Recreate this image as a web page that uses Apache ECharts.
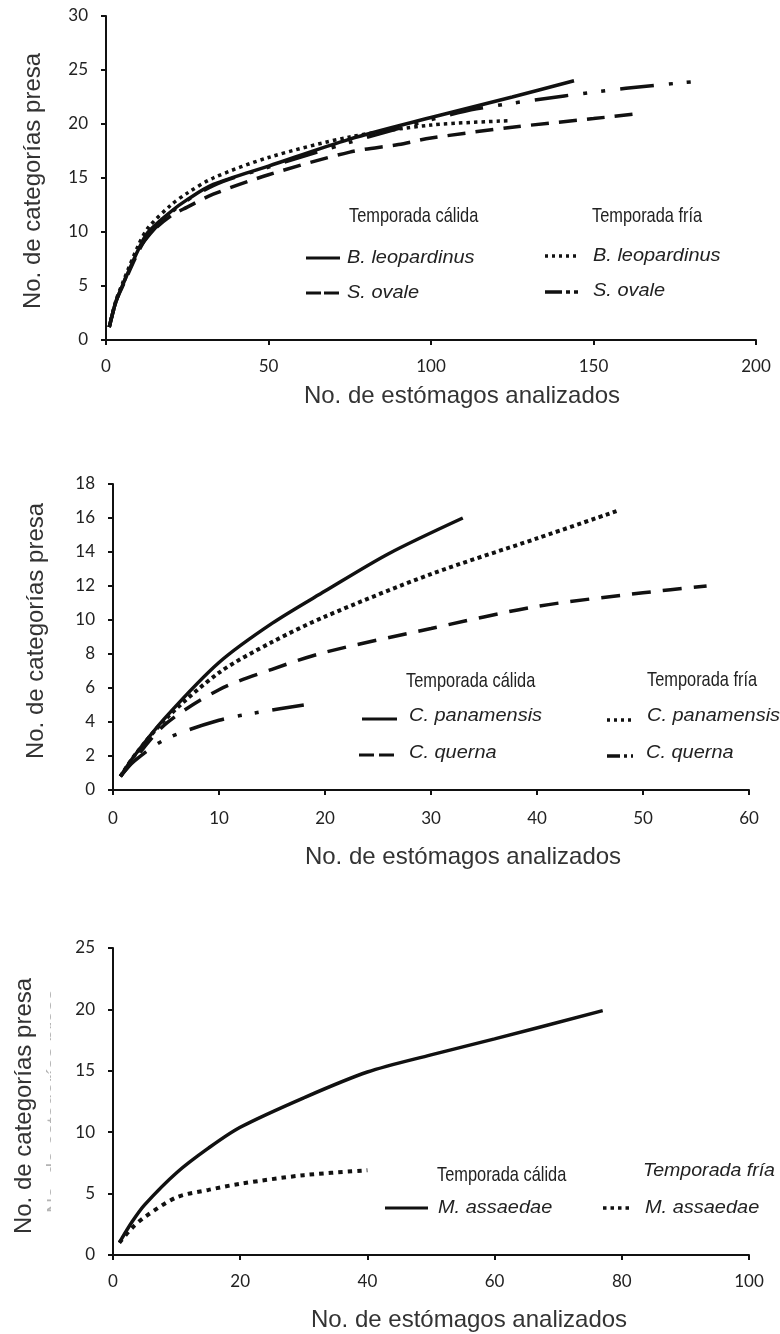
<!DOCTYPE html>
<html><head><meta charset="utf-8">
<script src="https://cdn.jsdelivr.net/npm/echarts@6/dist/echarts.min.js"></script>
<style>html,body{margin:0;padding:0;background:#fff}#c{width:780px;height:1334px}</style>
</head><body><div id="c"></div>
<script>
// ---------- Tick labels ----------
const p1XTicks = [0, 50, 100, 150, 200];
const p1YTicks = [0, 5, 10, 15, 20, 25, 30];
const p2XTicks = [0, 10, 20, 30, 40, 50, 60];
const p2YTicks = [0, 2, 4, 6, 8, 10, 12, 14, 16, 18];
const p3XTicks = [0, 20, 40, 60, 80, 100];
const p3YTicks = [0, 5, 10, 15, 20, 25];

// ---------- Texts ----------
const xTitle = 'No. de estómagos analizados';
const yTitle = 'No. de categorías presa';
const warmLabel = 'Temporada cálida';
const coldLabel = 'Temporada fría';

// ---------- Panel 1 ----------
const p1BleoWarmX = [1, 3, 5, 10, 13, 20, 25, 33, 50, 75, 100, 125, 144];
const p1BleoWarmY = [1.2, 3.5, 5.0, 8.4, 10.0, 11.9, 13.0, 14.4, 16.1, 18.6, 20.6, 22.5, 24.0];
const p1BleoColdX = [1, 3, 5, 10, 13, 20, 25, 33, 50, 75, 100, 124];
const p1BleoColdY = [1.2, 3.6, 5.2, 8.8, 10.4, 12.5, 13.6, 15.0, 16.9, 18.8, 19.9, 20.3];
const p1OvaleWarmX = [1, 3, 5, 10, 13, 20, 25, 33, 50, 75, 90, 100, 125, 150, 162];
const p1OvaleWarmY = [1.2, 3.5, 4.9, 8.2, 9.7, 11.5, 12.3, 13.5, 15.3, 17.4, 18.1, 18.7, 19.7, 20.5, 20.9];
const p1OvaleColdX = [1, 3, 5, 10, 20, 33, 50, 75, 100, 114, 141, 160, 180];
const p1OvaleColdY = [1.2, 3.5, 5.0, 8.4, 11.8, 14.3, 16.0, 18.3, 20.4, 21.4, 22.6, 23.3, 23.9];
const p1Names = ['B. leopardinus', 'S. ovale'];

// ---------- Panel 2 ----------
const p2PanWarmX = [0.7, 2, 5, 10, 15, 20, 26, 33];
const p2PanWarmY = [0.8, 2.0, 4.3, 7.5, 9.8, 11.7, 13.9, 16.0];
const p2PanColdX = [0.7, 2, 5, 10, 15, 20, 30, 40, 47.5];
const p2PanColdY = [0.8, 2.0, 4.2, 6.9, 8.7, 10.2, 12.7, 14.8, 16.4];
const p2QuerWarmX = [0.7, 2, 5, 10, 15, 20, 30, 40, 50, 56];
const p2QuerWarmY = [0.8, 1.8, 3.9, 5.9, 7.1, 8.1, 9.5, 10.8, 11.6, 12.0];
const p2QuerColdX = [0.7, 2, 5, 10, 14, 18];
const p2QuerColdY = [0.8, 1.7, 3.0, 4.1, 4.6, 5.0];
const p2Names = ['C. panamensis', 'C. querna'];

// ---------- Panel 3 ----------
const p3MassWarmX = [1, 3, 5, 10, 15, 20, 30, 40, 50, 60, 77];
const p3MassWarmY = [1.0, 2.7, 4.1, 6.7, 8.7, 10.4, 12.8, 14.9, 16.3, 17.6, 19.9];
const p3MassColdX = [1, 3, 5, 10, 15, 20, 30, 40];
const p3MassColdY = [1.0, 2.2, 3.1, 4.7, 5.3, 5.8, 6.5, 6.9];
const p3Names = ['M. assaedae'];

// ---------- build ----------
const INK = '#111';
const zip = (xs, ys) => xs.map((x, i) => [x, ys[i]]);
const DASH = [18, 10];
const DOT = [3.5, 4];
const DASHDOT = [34, 15, 4, 14, 4, 15];

function xAx(g, t, margin) {
  return { type: 'value', gridIndex: g, min: t[0], max: t[t.length - 1], interval: t[1] - t[0],
    axisLine: { lineStyle: { color: INK, width: 2 } },
    axisTick: { show: true, length: 5, lineStyle: { color: INK, width: 2 } },
    axisLabel: { color: '#222', fontSize: 17, fontFamily: 'Lato', margin: margin },
    splitLine: { show: false } };
}
function yAx(g, t) {
  return { type: 'value', gridIndex: g, min: t[0], max: t[t.length - 1], interval: t[1] - t[0],
    axisLine: { show: true, lineStyle: { color: INK, width: 2 } },
    axisTick: { show: true, length: 5, lineStyle: { color: INK, width: 2 } },
    axisLabel: { color: '#222', fontSize: 17, fontFamily: 'Lato', margin: 18 },
    splitLine: { show: false } };
}
function ser(name, g, xs, ys, type, w) {
  return { name: name, type: 'line', xAxisIndex: g, yAxisIndex: g, data: zip(xs, ys),
    smooth: 0.3, showSymbol: false, symbol: 'none', silent: true,
    lineStyle: { color: INK, width: w || 3.5, type: type, cap: 'butt' }, animation: false };
}

function txt(x, y, s, o) {
  o = o || {};
  return { type: 'text', x: x, y: y, rotation: o.rot || 0, scaleX: o.sx || 1, scaleY: o.sy || 1, silent: true,
    style: { text: s, fill: o.fill || '#222', font: (o.italic ? 'italic ' : '') + (o.size || 19) + 'px ' + (o.family || '"Liberation Sans", Arial, sans-serif'),
      textAlign: o.align || 'left', textVerticalAlign: 'middle' } };
}
function sample(x1, x2, y, dash, w) {
  return { type: 'line', silent: true, shape: { x1: x1, y1: y, x2: x2, y2: y },
    style: { stroke: INK, lineWidth: w || 3, lineDash: dash || null, lineCap: 'butt' } };
}
const HEAD = { size: 21, sx: 0.78 };
const SP = { italic: true, size: 19, sx: 1.05 };

const graphic = [
  // axis titles
  txt(462, 396, xTitle, { size: 24, align: 'center', fill: '#333' }),
  txt(463, 857, xTitle, { size: 24, align: 'center', fill: '#333' }),
  txt(469, 1320, xTitle, { size: 24, align: 'center', fill: '#333' }),
  txt(33, 181, yTitle, { size: 24, align: 'center', fill: '#333', rot: Math.PI / 2 }),
  txt(36, 631, yTitle, { size: 24, align: 'center', fill: '#333', rot: Math.PI / 2 }),
  // faint, half-hidden duplicate title (panel 3)
  txt(55, 1101, yTitle, { size: 21, align: 'center', fill: '#b4b4b4', rot: Math.PI / 2 }),
  { type: 'rect', silent: true, shape: { x: 51, y: 975, width: 16, height: 250 }, style: { fill: '#fff' } },
  txt(24, 1106, yTitle, { size: 24, align: 'center', fill: '#333', rot: Math.PI / 2 }),

  // panel 1 legend
  txt(349, 216, warmLabel, HEAD),
  txt(592, 216, coldLabel, HEAD),
  sample(306, 340, 258),
  txt(347, 258, p1Names[0], SP),
  sample(306, 340, 293, [15, 3]),
  txt(347, 293, p1Names[1], SP),
  sample(545, 578, 256, [3, 4], 3.5),
  txt(593, 256, p1Names[0], SP),
  sample(545, 578, 292, [17, 4, 4, 4, 4, 10], 3.5),
  txt(593, 291, p1Names[1], SP),

  // panel 2 legend
  txt(406, 681, warmLabel, HEAD),
  txt(647, 680, coldLabel, HEAD),
  sample(362, 397, 719),
  txt(409, 716, p2Names[0], SP),
  sample(359, 397, 755, [15, 5]),
  txt(409, 753, p2Names[1], SP),
  sample(607, 632, 720, [3, 4], 3.5),
  txt(647, 716, p2Names[0], SP),
  sample(607, 633, 756, [13, 4, 3, 4, 3, 10], 3.5),
  txt(646, 753, p2Names[1], SP),

  // panel 3 legend
  txt(437, 1175, warmLabel, HEAD),
  txt(643, 1171, coldLabel, { italic: true, size: 19, sx: 1.03 }),
  sample(385, 428, 1208),
  txt(438, 1208, p3Names[0], SP),
  sample(603, 632, 1208, [3.5, 4], 3.5),
  txt(645, 1208, p3Names[0], SP)
];

const option = {
  backgroundColor: '#fff',
  animation: false,
  grid: [
    { left: 106, top: 16, width: 650, height: 324 },
    { left: 113, top: 484, width: 636, height: 306 },
    { left: 113, top: 948, width: 636, height: 307 }
  ],
  xAxis: [xAx(0, p1XTicks, 18), xAx(1, p2XTicks, 20), xAx(2, p3XTicks, 18)],
  yAxis: [yAx(0, p1YTicks), yAx(1, p2YTicks), yAx(2, p3YTicks)],
  series: [
    ser('B. leopardinus (cálida)', 0, p1BleoWarmX, p1BleoWarmY, 'solid'),
    ser('B. leopardinus (fría)', 0, p1BleoColdX, p1BleoColdY, DOT, 3.5),
    ser('S. ovale (cálida)', 0, p1OvaleWarmX, p1OvaleWarmY, DASH),
    ser('S. ovale (fría)', 0, p1OvaleColdX, p1OvaleColdY, DASHDOT),
    ser('C. panamensis (cálida)', 1, p2PanWarmX, p2PanWarmY, 'solid'),
    ser('C. panamensis (fría)', 1, p2PanColdX, p2PanColdY, [4, 3.5], 4),
    ser('C. querna (cálida)', 1, p2QuerWarmX, p2QuerWarmY, [19, 12]),
    ser('C. querna (fría)', 1, p2QuerColdX, p2QuerColdY, [36, 14, 4, 13, 4, 14]),
    ser('M. assaedae (cálida)', 2, p3MassWarmX, p3MassWarmY, 'solid'),
    ser('M. assaedae (fría)', 2, p3MassColdX, p3MassColdY, [4.5, 5], 4)
  ],
  graphic: graphic
};
const chart = echarts.init(document.getElementById('c'), null, { renderer: 'canvas' });
chart.setOption(option);
</script></body></html>
